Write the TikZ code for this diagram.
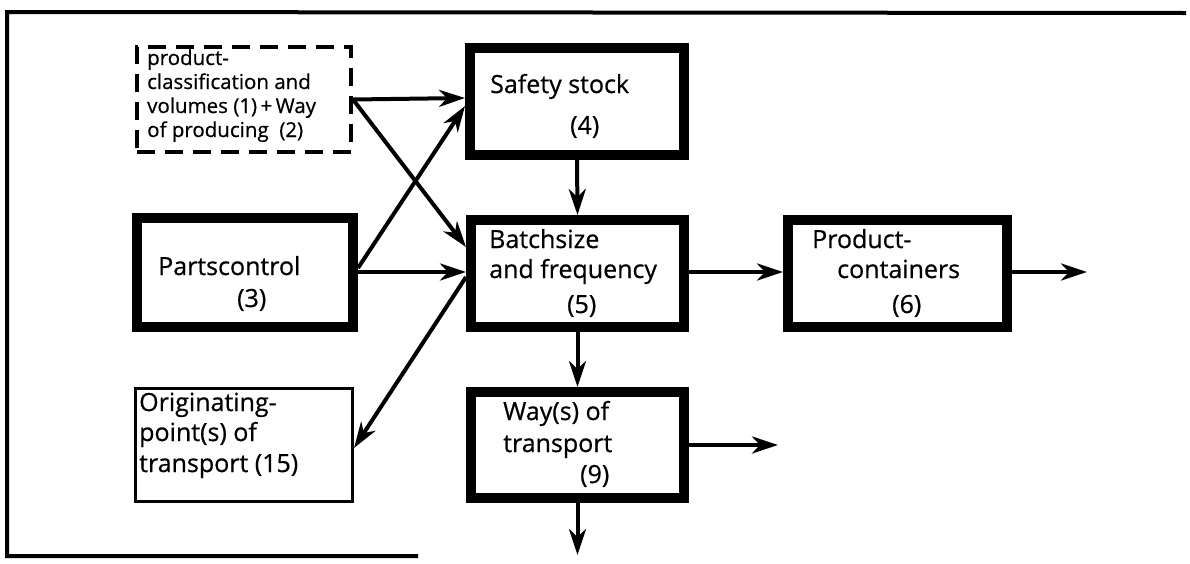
\documentclass[tikz,border=0pt]{standalone}
\usepackage{fontspec}
\setmainfont{Open Sans}[FakeBold=0.6]
\usetikzlibrary{arrows.meta,calc}
\begin{document}
\begin{tikzpicture}[x=1pt,y=-1pt,
  bigbox/.style={draw,line width=10pt,inner sep=0pt,rectangle},
  thinbox/.style={draw,line width=3pt,inner sep=0pt,rectangle},
  dashbox/.style={draw,line width=4pt,dash pattern=on 18pt off 10pt,inner sep=0pt,rectangle},
  lbl/.style={anchor=base west,inner sep=0pt,font=\fontsize{25}{30}\selectfont},
  slbl/.style={anchor=base west,inner sep=0pt,font=\fontsize{20.5}{24}\selectfont},
  conn/.style={line width=4pt,-{Stealth[length=26pt,width=17pt,inset=8pt]}},
  framestyle/.style={line width=4pt}]
\useasboundingbox (0,0) rectangle (1190,563);
% frame
\draw[framestyle] (1186,13) -- (7,12) -- (7,556) -- (418,556);
% boxes
\node[dashbox,minimum width=214pt,minimum height=105pt] (dashed) at (244,99.5) {};
\node[bigbox,minimum width=214pt,minimum height=107pt] (safety) at (577,101.5) {};
\node[bigbox,minimum width=216pt,minimum height=109pt] (parts) at (245,272.5) {};
\node[bigbox,minimum width=213pt,minimum height=107pt] (batch) at (577.5,273.5) {};
\node[bigbox,minimum width=219pt,minimum height=107pt] (product) at (897.5,273.5) {};
\node[thinbox,minimum width=217pt,minimum height=113pt] (orig) at (244,445) {};
\node[bigbox,minimum width=213pt,minimum height=106pt] (ways) at (577.5,445) {};
% texts
\node[slbl] (t1a) at (147,65) {product-};
\node[slbl] (t1b) at (147,89) {classification and};
\node[slbl] (t1c) at (147,113) {volumes (1)\,+\,Way};
\node[slbl] (t1d) at (147,137) {of producing~~(2)};
\node[lbl] (t4a) at (490,93) {Safety stock};
\node[lbl] (t4b) at (570,134) {(4)};
\node[lbl] (t3a) at (158,275) {Partscontrol};
\node[lbl] (t3b) at (237,307) {(3)};
\node[lbl] (t5a) at (489,248) {Batchsize};
\node[lbl] (t5b) at (489,278) {and frequency};
\node[lbl] (t5c) at (567,313) {(5)};
\node[lbl] (t6a) at (812,248) {Product-};
\node[lbl] (t6b) at (837,278) {containers};
\node[lbl] (t6c) at (892,313) {(6)};
\node[lbl] (t15a) at (139,411) {Originating-};
\node[lbl] (t15b) at (139,441) {point(s) of};
\node[lbl] (t15c) at (139,472) {transport (15)};
\node[lbl] (t9a) at (503,420) {Way(s) of};
\node[lbl] (t9b) at (503,452) {transport};
\node[lbl] (t9c) at (580,483) {(9)};
% helper coordinates
\coordinate (y98) at (0,98);
\coordinate (y106) at (0,106);
\coordinate (y247) at (0,247);
\coordinate (y268) at (0,268);
\coordinate (y272) at (0,272);
\coordinate (y277) at (0,277);
\coordinate (y448) at (0,448);
\coordinate (out1) at (1087,272);
\coordinate (out2) at (778,445);
\coordinate (out3) at (577.5,555);
% connectors
\draw[conn] (dashed.east) -- (safety.west |- y98);
\draw[conn] (dashed.east) -- (batch.west |- y247);
\draw[conn] (parts.east |- y268) -- (safety.west |- y106);
\draw[conn] (parts.east |- y272) -- (batch.west |- y272);
\draw[conn] (batch.west |- y277) -- (orig.east |- y448);
\draw[conn] (safety.south) -- (batch.north);
\draw[conn] (batch.east |- y272) -- (product.west |- y272);
\draw[conn] (product.east |- y272) -- (out1);
\draw[conn] (batch.south) -- (ways.north);
\draw[conn] (ways.east) -- (out2);
\draw[conn] (ways.south) -- (out3);
\end{tikzpicture}
\end{document}
